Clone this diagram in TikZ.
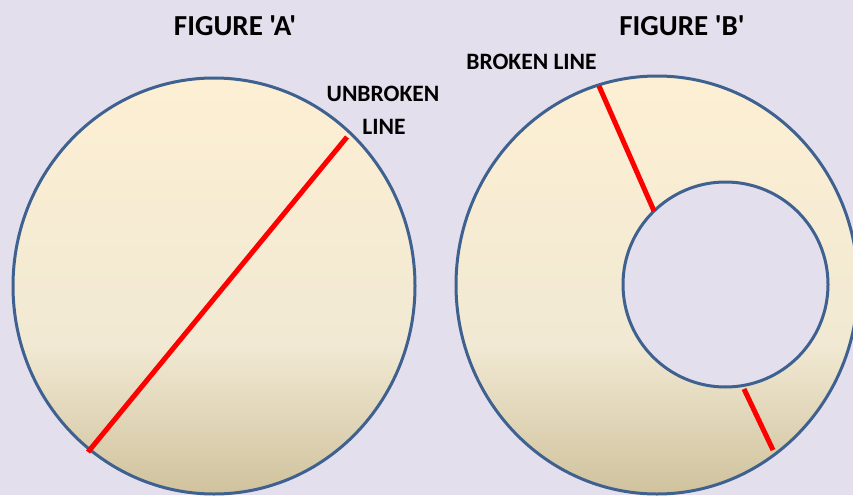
\documentclass[tikz,border=0pt]{standalone}
\usepackage{fontspec}
\setmainfont{Carlito}[Ligatures=TeXOff]
\definecolor{bgcol}{HTML}{E4DFEC}
\definecolor{rimcol}{HTML}{3E6190}
\definecolor{creamtop}{HTML}{FDEFD3}
\definecolor{creammid}{HTML}{F1E9D3}
\definecolor{creambot}{HTML}{D0C29D}
\definecolor{redline}{HTML}{FF0000}
\pgfdeclareverticalshading{creamshade}{100bp}{color(0bp)=(creambot); color(25bp)=(creambot); color(43bp)=(creammid); color(75bp)=(creamtop); color(100bp)=(creamtop)}
\tikzset{
  disc/.style={shading=creamshade, draw=rimcol, line width=3pt},
  hole/.style={fill=bgcol, draw=rimcol, line width=3pt},
  crack/.style={draw=redline, line width=5pt},
  title/.style={font=\bfseries\fontsize{29}{33}\selectfont, inner sep=0pt},
  tag/.style={font=\bfseries\fontsize{23.5}{27}\selectfont, inner sep=0pt},
}
\begin{document}
\begin{tikzpicture}[x=1pt,y=-1pt]
\useasboundingbox[fill=bgcol] (0,0) rectangle (853,495);
% Figure A
\path[disc] (214,286) ellipse [x radius=201, y radius=208];
\coordinate (a1) at (88,452);
\coordinate (a2) at (347,137);
\draw[crack] (a1) -- (a2);
% Figure B
\path[disc] (657,285) ellipse [x radius=201, y radius=209];
\path[hole] (725.5,284.5) circle [radius=102.5];
\coordinate (b1) at (599,86);
\coordinate (b2) at (654,211);
\coordinate (b3) at (744,389);
\coordinate (b4) at (773,450);
\draw[crack] (b1) -- (b2);
\draw[crack] (b3) -- (b4);
% labels
\node[title] (ta) at (235,26) {FIGURE 'A'};
\node[title] (tb) at (682,26) {FIGURE 'B'};
\node[tag] (bl) at (531.5,62) {BROKEN LINE};
\node[tag] (ub) at (383,94) {UNBROKEN};
\node[tag] (ul) at (384,127) {LINE};
\end{tikzpicture}
\end{document}
